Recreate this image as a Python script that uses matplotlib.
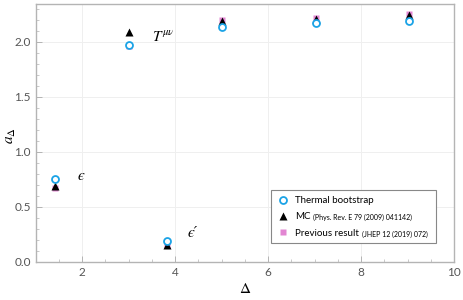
import matplotlib
matplotlib.use("Agg")
import matplotlib.pyplot as plt
from matplotlib.ticker import MultipleLocator

# data
delta = [1.41, 3.0, 3.83, 5.02, 7.03, 9.04]
thermal = [0.755, 1.975, 0.19, 2.14, 2.17, 2.19]
mc = [0.69, 2.09, 0.155, 2.19, 2.21, 2.245]
previous = [0.67, 1.96, 0.15, 2.20, 2.215, 2.25]

op_names = ["$\u03f5$", r"$T^{\mu\nu}$", "\u03f5\u2032"]
op_pos = [(1.99, 0.78), (3.74, 2.04), (4.37, 0.26)]

plt.rcParams["font.family"] = ["Lato", "DejaVu Sans"]
plt.rcParams["mathtext.fontset"] = "stix"

fig = plt.figure(figsize=(4.63, 3.0), dpi=100)
ax = fig.add_axes([0.0767, 0.1267, 0.9039, 0.86])

grey = "#b4b4b4"
ax.grid(True, which="major", color="#efefef", lw=0.7, zorder=0)

ax.plot(delta, previous, "s", ms=4.8, color="#e286d2", mec="none", zorder=3,
        label="Previous result")
ax.plot(delta, mc, "^", ms=5.2, color="black", mec="none", zorder=4, label="MC")
ax.plot(delta, thermal, "o", ms=5.0, mfc="white", mec="#1ba3e6", mew=1.3,
        zorder=5, label="Thermal bootstrap")

for name, (x, y) in zip(op_names, op_pos):
    ax.text(x, y, name, fontsize=11, ha="center", va="center",
            family=["STIXGeneral", "DejaVu Serif"], style="italic")

ax.set_xlim(1, 10)
ax.set_ylim(0, 2.345)
ax.xaxis.set_major_locator(MultipleLocator(2))
ax.xaxis.set_minor_locator(MultipleLocator(0.5))
ax.yaxis.set_major_locator(MultipleLocator(0.5))
ax.yaxis.set_minor_locator(MultipleLocator(0.1))

for sp in ax.spines.values():
    sp.set_color(grey)
    sp.set_linewidth(1.0)
ax.tick_params(which="both", direction="in", color=grey, labelcolor="#555555",
               labelsize=8.5, top=False, right=False)
ax.tick_params(which="major", length=4, width=0.7)
ax.tick_params(which="minor", length=2, width=0.5)

ax.set_xlabel(r"$\Delta$", fontsize=11, labelpad=3)
ax.set_ylabel(r"$a_\Delta$", fontsize=11)
ax.yaxis.set_label_coords(-0.043, 0.49)

handles, labels = ax.get_legend_handles_labels()
order = [2, 1, 0]
leg = ax.legend([handles[i] for i in order], [labels[i] for i in order],
                loc="lower left", bbox_to_anchor=(0.55, 0.053, 0.418, 0.215),
                mode="expand", fontsize=7, frameon=True, fancybox=False,
                edgecolor="#888888", framealpha=1, handletextpad=0.5,
                handlelength=1.4, borderpad=0.6, labelspacing=0.75)
leg.get_frame().set_linewidth(0.8)
leg.set_zorder(10)

refs = {"MC": "(Phys. Rev. E 79 (2009) 041142)",
        "Previous result": "(JHEP 12 (2019) 072)"}
for t in leg.get_texts():
    if t.get_text() in refs:
        ax.annotate(refs[t.get_text()], xy=(1, 0), xycoords=t,
                    xytext=(2, 0), textcoords="offset points",
                    fontsize=5, va="bottom", ha="left", zorder=11)

fig.savefig("out.png", dpi=100)
